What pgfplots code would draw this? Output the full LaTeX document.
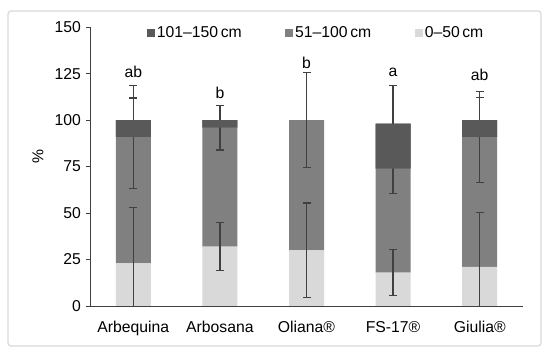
\documentclass[border=0pt]{standalone}
\usepackage{pgfplots}
\pgfplotsset{compat=1.18}
\usepackage{pgfplotstable}
\usepackage{fontspec}
\setmainfont{Liberation Sans}
\definecolor{lt}{HTML}{D9D9D9}
\definecolor{md}{HTML}{808080}
\definecolor{dk}{HTML}{595959}
\definecolor{eb}{HTML}{404040}
\definecolor{bd}{HTML}{D9D9D9}
\newcommand\fs{\fontsize{15.8}{18}\selectfont}
\pgfplotstableread{
x light medium dark elight emedium edark
0 23 68 9 30 27.75 11.9
1 32 64 4 13 12 8
2 30 70 0 25.4 25.5 0
3 18 56 24.2 12.4 13.4 20.3
4 21 70 9 29.5 24.6 12.3
}\data
\pgfplotsset{base/.style={
  scale only axis, width=433bp, height=278.7bp,
  xmin=-0.5, xmax=4.5, ymin=0, ymax=150,
  ybar stacked, bar width=35bp,
},
ebars/.style={error bars/.cd, y dir=both, y explicit,
  error bar style={eb, line width=1.3bp},
  error mark=|, error mark options={eb, line width=1.3bp, mark size=4bp}}
}
\begin{document}
\begin{tikzpicture}
\useasboundingbox (-90bp,-45bp) rectangle (460bp,306bp);
\draw[bd, line width=1.2bp, rounded corners=3bp] (-82bp,-40bp) rectangle (451bp,295bp);
\begin{axis}[base,
  axis x line*=bottom, axis y line*=left,
  axis line style={eb, line width=0.9bp},
  ytick={0,25,...,150},
  tick align=outside, major tick length=4bp,
  ytick style={eb, line width=0.9bp},
  xtick={0,1,2,3,4},
  xticklabels={Arbequina,Arbosana,Oliana®,FS-17®,Giulia®},
  xtick style={draw=none},
  tick label style={font=\fs},
  xticklabel style={yshift=-8bp},
  yticklabel style={xshift=-1.5bp},
  /pgf/number format/assume math mode=true,
]
\addplot[fill=lt, draw=none, ebars] table[x=x, y=light, y error=elight]{\data};
\addplot[fill=md, draw=none, ebars] table[x=x, y=medium, y error=emedium]{\data};
\addplot[fill=dk, draw=none, ebars] table[x=x, y=dark, y error=edark]{\data};
\end{axis}
\begin{axis}[base, hide axis,
  legend columns=3,
  legend style={draw=none, fill=none, font=\fs, at={(0.523,0.98)}, anchor=center,
    nodes={inner xsep=2.5bp},
    /tikz/every even column/.append style={column sep=41bp}},
]
\addplot[draw=none, fill=none, forget plot] table[x=x, y=light]{\data};
\addplot[draw=none, fill=none, forget plot] table[x=x, y=medium]{\data};
\addplot[fill=dk, draw=none, forget plot] table[x=x, y=dark]{\data};
\addlegendimage{legend image code/.code={\fill[dk] (0bp,-3.5bp) rectangle (7bp,3.5bp);}}
\addlegendentry{101–150\,cm}
\addlegendimage{legend image code/.code={\fill[md] (0bp,-3.5bp) rectangle (7bp,3.5bp);}}
\addlegendentry{51–100\,cm}
\addlegendimage{legend image code/.code={\fill[lt] (0bp,-3.5bp) rectangle (7bp,3.5bp);}}
\addlegendentry{0–50\,cm}
\node[anchor=base, font=\fs] at (axis cs:0,122.9) {ab};
\node[anchor=base, font=\fs] at (axis cs:1,111.5) {b};
\node[anchor=base, font=\fs] at (axis cs:2,127.8) {b};
\node[anchor=base, font=\fs] at (axis cs:3,123.7) {a};
\node[anchor=base, font=\fs] at (axis cs:4,121.5) {ab};
\end{axis}
\node[rotate=90, font=\fs] at (-52bp,149bp) {\%};
\end{tikzpicture}
\end{document}
